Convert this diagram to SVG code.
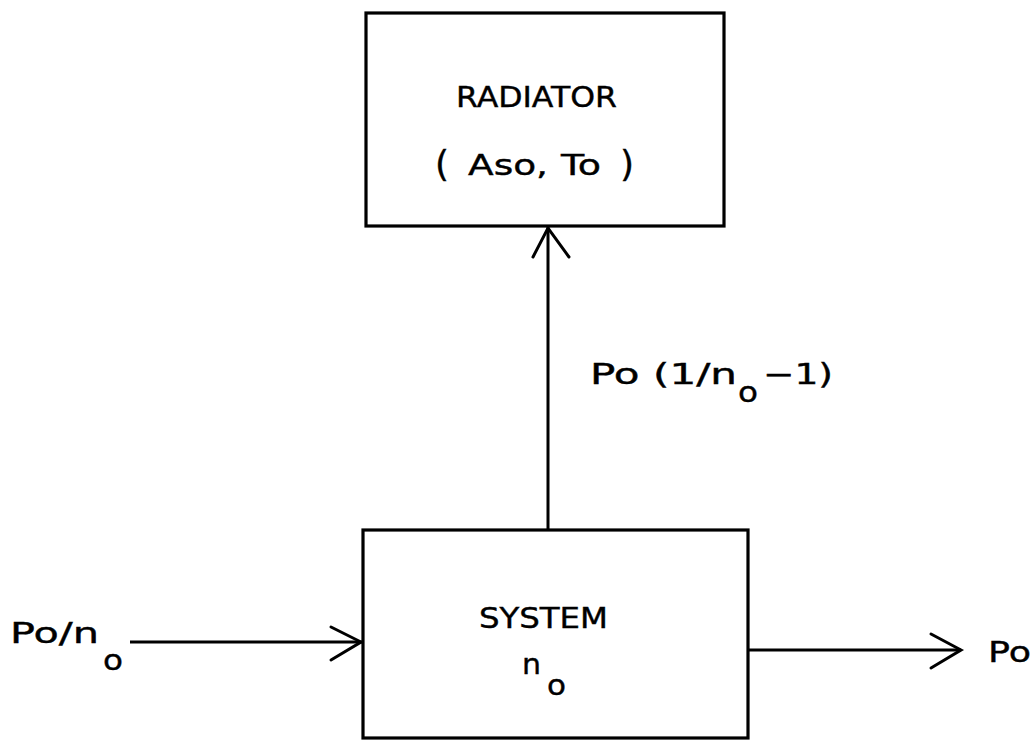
<svg xmlns="http://www.w3.org/2000/svg" width="1033" height="742" viewBox="0 0 1033 742">
  <style>
    .box { fill: #fff; stroke: #000; stroke-width: 3.2; }
    .wire { fill: none; stroke: #000; stroke-width: 3; }
    .head { fill: none; stroke: #000; stroke-width: 3; stroke-linecap: round; stroke-linejoin: miter; }
    text { font-family: "DejaVu Sans", "Liberation Sans", sans-serif; font-size: 28px; fill: #000; stroke: #000; stroke-width: 0.4; }
    .paren { font-size: 36px; }
  </style>
  <rect width="1033" height="742" fill="#fff"/>

  <g id="radiator">
    <rect class="box" x="366" y="13" width="358" height="213"/>
    <text x="456" y="107" textLength="161" lengthAdjust="spacingAndGlyphs">RADIATOR</text>
    <text class="paren" x="435" y="176">(</text>
    <text x="468" y="175" textLength="80" lengthAdjust="spacingAndGlyphs">Aso,</text>
    <text x="561" y="175" textLength="40" lengthAdjust="spacingAndGlyphs">To</text>
    <text class="paren" x="620" y="176">)</text>
  </g>

  <g id="system">
    <rect class="box" x="363" y="530" width="385" height="208"/>
    <text x="479" y="628" textLength="129" lengthAdjust="spacingAndGlyphs">SYSTEM</text>
    <text x="522" y="674" textLength="19" lengthAdjust="spacingAndGlyphs">n</text>
    <text x="547" y="695" textLength="19" lengthAdjust="spacingAndGlyphs">o</text>
  </g>

  <g id="connectors">
    <!-- system to radiator -->
    <line class="wire" x1="548" y1="530" x2="548" y2="227"/>
    <polyline class="head" points="533,257 548,228 569,257"/>
    <!-- input to system -->
    <line class="wire" x1="130" y1="642" x2="362" y2="642"/>
    <polyline class="head" points="331,627 361,642 331,660"/>
    <!-- output from system -->
    <line class="wire" x1="749" y1="650" x2="961" y2="650"/>
    <polyline class="head" points="931,634 961,650 931,668"/>
  </g>

  <g id="labels">
    <text x="590" y="384" textLength="147" lengthAdjust="spacingAndGlyphs">Po (1/n</text>
    <text x="738" y="402" textLength="20" lengthAdjust="spacingAndGlyphs">o</text>
    <text x="763" y="384" textLength="70" lengthAdjust="spacingAndGlyphs">−1)</text>
    <text x="10" y="643" textLength="89" lengthAdjust="spacingAndGlyphs">Po/n</text>
    <text x="103" y="670" textLength="20" lengthAdjust="spacingAndGlyphs">o</text>
    <text x="988" y="662" textLength="43" lengthAdjust="spacingAndGlyphs">Po</text>
  </g>
</svg>
